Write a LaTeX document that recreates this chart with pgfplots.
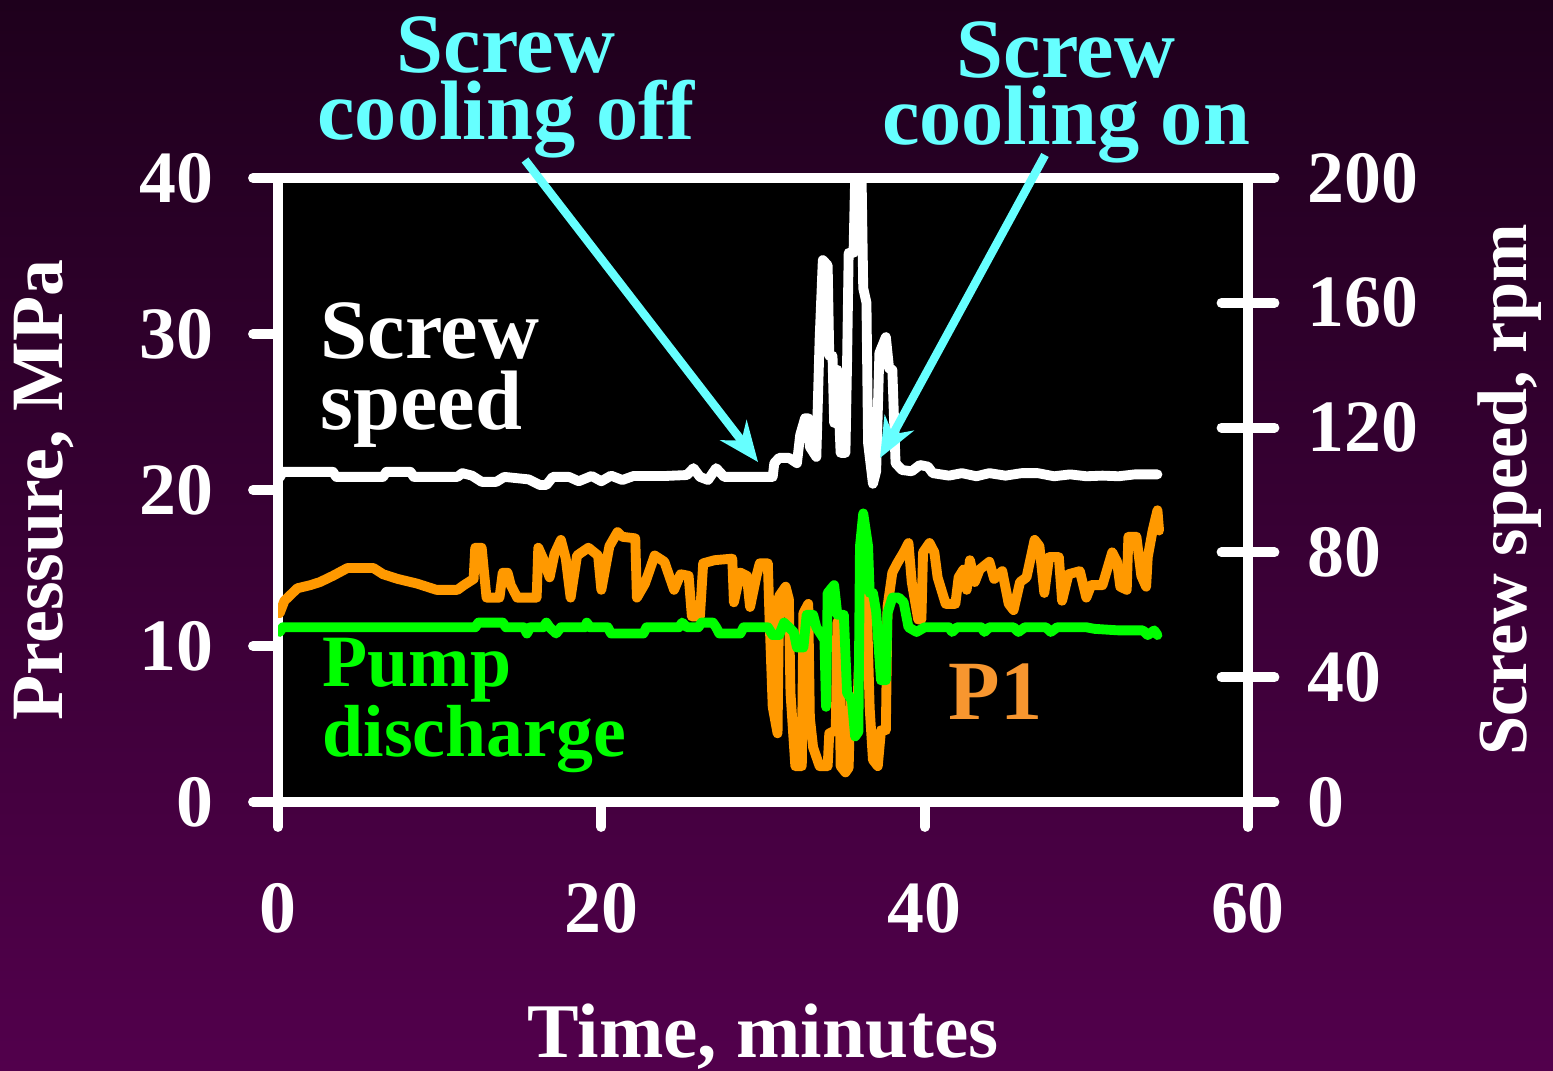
\documentclass[border=0pt]{standalone}
\usepackage{pgfplots}
\pgfplotsset{compat=1.18}
\usepackage{fontspec}
\setmainfont{Liberation Serif}
\usetikzlibrary{arrows.meta}
\definecolor{bgtop}{HTML}{1E001C}
\definecolor{bgbot}{HTML}{52004C}
\definecolor{cyanA}{HTML}{66FFFF}
\definecolor{orangeL}{HTML}{FF9900}
\definecolor{greenL}{HTML}{00FF00}
\definecolor{orangeT}{HTML}{F7962F}
\begin{document}
\begin{tikzpicture}[x=1cm,y=1cm]
\shade[top color=bgtop, bottom color=bgbot] (0,0) rectangle (15.53,10.71);
\pgfplotsset{
  myaxis/.style={
    at={(2.78cm,2.69cm)}, anchor=south west,
    scale only axis, width=9.70cm, height=6.24cm,
    xmin=0, xmax=60,
    axis line style={white, line width=2.8pt, line cap=round},
    tick style={white, line width=2.8pt, line cap=round},
    /pgf/number format/assume math mode=true,
    label style={text=white},
  },
}
\begin{axis}[myaxis,
  ymin=0, ymax=40,
  axis background/.style={fill=black},
  xtick={0,20,40,60}, ytick={0,10,20,30,40},
  tick pos=left, tick align=outside,
  major tick length=0.25cm,
  yticklabel style={font=\fontsize{21}{21}\selectfont\bfseries, text=white, anchor=east, inner sep=0pt, xshift=-0.39cm},
  xticklabel style={font=\fontsize{21}{21}\selectfont\bfseries, text=white, anchor=center, inner sep=0pt, yshift=-0.81cm},
  xlabel={Time, minutes},
  xlabel style={font=\fontsize{22}{22}\selectfont\bfseries, at={(axis description cs:0.5,-0.409)}, anchor=base},
  ylabel={Pressure, MPa},
  ylabel style={font=\fontsize{21}{21}\selectfont\bfseries, at={(axis description cs:-0.241,0.5)}, anchor=center, rotate=0},
]
\addplot[orangeL, line width=2.8pt, line join=round, line cap=round] coordinates {
(0.1,12.1)(0.4,12.9)(1.2,13.7)(2.0,13.9)(2.6,14.1)(3.4,14.5)(4.3,15.0)(5.9,15.0)(6.5,14.6)(7.4,14.3)(8.6,14.0)(9.8,13.6)(11.1,13.6)(11.5,13.9)(12.1,14.3)(12.2,16.3)(12.6,16.3)(12.7,15.2)(12.9,13.1)(13.7,13.1)(13.9,14.7)(14.2,14.7)(14.4,13.9)(14.8,13.1)(16.0,13.1)(16.1,16.3)(16.4,15.6)(16.8,14.4)(17.1,15.9)(17.5,16.8)(17.8,15.6)(18.1,13.1)(18.5,15.8)(19.2,16.3)(19.8,15.8)(20.0,13.6)(20.5,16.4)(21.0,17.3)(21.3,17.0)(22.1,16.9)(22.2,13.1)(22.7,14.0)(23.3,15.8)(23.9,15.4)(24.5,13.6)(24.9,14.6)(25.4,14.5)(25.6,11.9)(26.1,11.9)(26.3,15.3)(27.0,15.5)(28.1,15.6)(28.2,12.8)(28.6,14.7)(29.0,14.5)(29.2,12.5)(29.6,14.5)(29.8,15.3)(30.3,15.3)(30.4,11.9)(30.6,6.1)(30.9,4.4)(31.0,13.2)(31.4,13.8)(31.6,13.0)(31.7,7.0)(32.0,2.3)(32.4,2.3)(32.5,12.1)(32.8,12.7)(32.9,5.4)(33.1,3.5)(33.5,2.3)(34.0,2.3)(34.1,4.4)(34.5,4.6)(34.6,11.5)(34.7,11.7)(34.8,2.3)(35.1,1.9)(35.3,2.2)(35.4,6.5)(35.8,5.0)(36.1,13.4)(36.4,13.4)(36.6,6.0)(36.8,2.7)(37.1,2.3)(37.3,4.6)(37.6,4.6)(37.7,12.5)(38.0,14.7)(38.3,15.3)(38.7,16.0)(39.0,16.6)(39.2,14.1)(39.6,11.7)(39.8,11.7)(39.9,16.0)(40.3,16.6)(40.6,16.0)(40.8,14.4)(41.3,12.7)(41.9,12.7)(42.1,14.4)(42.4,14.9)(42.6,13.6)(42.8,15.5)(43.1,14.1)(43.4,14.9)(44.0,15.4)(44.3,14.3)(44.8,14.8)(45.2,12.7)(45.5,12.3)(45.9,14.1)(46.3,14.4)(46.8,16.8)(47.1,16.4)(47.4,13.4)(47.7,15.7)(48.3,15.7)(48.5,12.9)(48.9,14.6)(49.6,14.8)(50.0,13.1)(50.3,13.9)(51.0,13.9)(51.6,16.0)(51.9,15.4)(52.1,13.8)(52.5,13.6)(52.6,17.0)(53.1,17.0)(53.4,14.5)(53.7,13.8)(53.8,15.7)(54.1,17.4)(54.4,18.7)(54.5,17.4)
};
\addplot[greenL, line width=2.8pt, line join=round, line cap=round] coordinates {
(0.1,10.9)(0.3,11.2)(12.2,11.2)(12.4,11.5)(13.9,11.5)(14.1,11.2)(15.2,11.2)(15.4,10.8)(15.6,11.2)(16.4,11.2)(16.6,11.5)(16.8,11.2)(17.2,10.8)(17.5,11.2)(19.0,11.2)(19.1,11.5)(19.3,11.2)(20.4,11.2)(20.6,10.8)(22.6,10.8)(22.8,11.2)(24.8,11.2)(25.0,11.5)(25.3,11.2)(26.0,11.2)(26.2,11.5)(26.9,11.5)(27.1,11.2)(27.3,10.8)(28.6,10.8)(28.8,11.2)(30.3,11.2)(30.6,10.7)(31.0,10.7)(31.3,11.5)(31.6,11.2)(31.9,10.9)(32.1,9.9)(32.5,9.9)(32.7,12.0)(33.1,12.0)(33.3,11.2)(33.8,10.4)(33.9,6.1)(34.0,13.4)(34.4,13.9)(34.6,12.0)(35.0,12.0)(35.2,7.0)(35.5,6.5)(35.7,4.2)(35.9,4.5)(36.0,16.4)(36.2,18.5)(36.5,16.4)(36.6,13.4)(36.8,13.4)(37.0,12.2)(37.3,7.8)(37.6,7.8)(37.7,12.1)(38.0,13.1)(38.4,13.1)(38.7,12.8)(39.0,11.2)(39.5,10.9)(40.0,11.2)(41.5,11.2)(41.7,10.9)(42.0,11.2)(43.5,11.2)(43.7,10.9)(44.0,11.2)(45.5,11.2)(45.8,10.9)(46.2,11.2)(47.5,11.2)(47.8,10.9)(48.2,11.2)(50.0,11.2)(50.5,11.1)(52.0,11.0)(53.5,11.0)(53.8,10.7)(54.2,11.0)(54.4,10.7)
};
\end{axis}
\begin{axis}[myaxis,
  ymin=0, ymax=200,
  axis x line=none, axis y line*=right,
  ytick={0,40,80,120,160,200},
  tick align=center, major tick length=0.53cm,
  yticklabel style={font=\fontsize{21}{21}\selectfont\bfseries, text=white, anchor=west, inner sep=0pt, xshift=0.32cm},
  ylabel={Screw speed, rpm},
  ylabel style={font=\fontsize{20}{20}\selectfont\bfseries, at={(axis description cs:1.270,0.5)}, anchor=center, rotate=0},
]
\addplot[white, line width=2.8pt, line join=round, line cap=round] coordinates {
(0.1,104)(0.3,105.8)(3.4,105.8)(3.6,104.2)(6.5,104.2)(6.7,105.8)(8.2,105.8)(8.4,104.2)(11.1,104.2)(11.4,105.4)(12.0,104.6)(12.6,102.6)(13.5,102.6)(14.0,104.2)(15.5,103.4)(16.2,101.6)(16.6,101.6)(17.0,104.2)(18.0,104.2)(18.6,102.8)(19.4,104.5)(20.0,102.8)(20.6,104.6)(21.3,103.2)(22.0,104.5)(24.0,104.5)(25.3,104.8)(25.7,107.0)(26.1,104.2)(26.6,103.2)(27.1,107.0)(27.6,104.2)(30.6,104.2)(30.7,108.6)(31.0,110.3)(31.6,110.3)(32.1,108.6)(32.3,117.6)(32.6,123)(32.8,123)(32.9,113.8)(33.3,110.6)(33.5,148)(33.7,173.7)(34.0,172)(34.1,143)(34.3,143)(34.4,121.5)(34.6,138.5)(34.8,111.9)(35.1,111.9)(35.2,140.7)(35.3,176)(35.6,176)(35.7,200)(36.1,200)(36.2,164.7)(36.4,160)(36.5,115)(36.8,102)(37.0,106)(37.2,143.9)(37.6,149)(37.8,139)(38.0,138.5)(38.2,108.6)(38.6,106.4)(39.2,106)(39.7,108)(40.2,107.5)(40.5,105.4)(41.5,104.6)(42.3,105.4)(43.2,104.4)(44.0,105.4)(45.0,104.6)(46.0,105.4)(47.0,105.4)(48.0,104.4)(49.0,105.0)(50.0,104.4)(51.0,104.6)(52.0,104.4)(53.0,105.0)(54.4,105.0)
};
\end{axis}
% annotations (anchor=base refers to the last line of each node)
\begin{scope}[every node/.style={inner sep=0pt, font=\fontsize{24}{19.3}\selectfont\bfseries}]
\node[anchor=base, align=center, text=cyanA] at (5.06,9.31) {Screw\\cooling off};
\node[anchor=base, align=center, text=cyanA] at (10.66,9.26) {Screw\\cooling on};
\node[anchor=base west, align=left, text=white, font=\fontsize{24}{20.4}\selectfont\bfseries] at (3.20,6.41) {Screw\\speed};
\node[anchor=base west, align=left, text=greenL, font=\fontsize{21}{17}\selectfont\bfseries] at (3.22,3.14) {Pump\\discharge};
\node[anchor=base west, text=orangeT] at (9.48,3.51) {P1};
\end{scope}
\draw[cyanA, line width=2.4pt, -{Stealth[length=0.40cm,width=0.33cm,inset=0.13cm]}] (5.25,9.11) -- (7.58,6.09);
\draw[cyanA, line width=2.4pt, -{Stealth[length=0.40cm,width=0.33cm,inset=0.13cm]}] (10.45,9.16) -- (8.80,6.13);
\pgfresetboundingbox
\path[use as bounding box] (0,0) rectangle (15.53,10.71);
\end{tikzpicture}
\end{document}
